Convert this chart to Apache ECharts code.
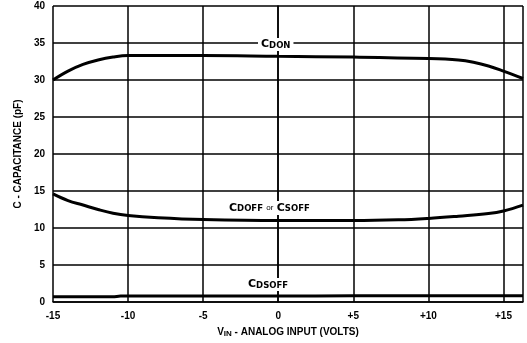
<!DOCTYPE html>
<html><head><meta charset="utf-8">
<script src="https://cdn.jsdelivr.net/npm/echarts@6/dist/echarts.min.js"></script>
<style>html,body{margin:0;padding:0;background:#fff}#c{width:527px;height:343px}</style>
</head><body><div id="c"></div>
<script>
const xTicks = [-15, -10, -5, 0, 5, 10, 15];
const yTicks = [0, 5, 10, 15, 20, 25, 30, 35, 40];
const xOn = [-15, -14, -13, -12, -11, -10, -5, 0, 5, 10, 12, 13, 14, 15, 16.3];
const cdOn = [30.0, 31.2, 32.1, 32.7, 33.1, 33.3, 33.3, 33.2, 33.1, 32.9, 32.7, 32.4, 31.9, 31.2, 30.2];
const xOff = [-15, -14, -13, -12, -11, -10, -8, -5, 0, 5, 8, 10, 12, 14, 15, 16.3];
const cdOff = [14.6, 13.7, 13.1, 12.5, 12.0, 11.7, 11.4, 11.15, 11.0, 11.0, 11.1, 11.3, 11.6, 11.95, 12.3, 13.1];
const xDs = [-15, -11, -10.5, 0, 5, 10, 16.3];
const cdsOff = [0.7, 0.7, 0.8, 0.8, 0.85, 0.85, 0.85];

const F = '"Liberation Sans", Arial, sans-serif';
const FD = '"DejaVu Sans", sans-serif';
const chart = echarts.init(document.getElementById('c'));
function pairs(xs, ys){ return xs.map((x,i)=>[x, ys[i]]); }
const sub = {
  c:{fontFamily:FD, fontSize:11, fontWeight:'bold', color:'#000'},
  s:{fontFamily:FD, fontSize:8.5, fontWeight:'bold', color:'#000', padding:[2,0,0,0]},
  o:{fontFamily:F, fontSize:8, color:'#000'}
};
chart.setOption({
  animation:false,
  backgroundColor:'#fff',
  grid:{left:53, right:4, top:6, bottom:39},
  xAxis:{type:'value', min:-15, max:16.3, interval:5,
    axisLine:{show:true, onZero:false, lineStyle:{color:'#000', width:1.5}},
    axisTick:{show:false},
    splitLine:{show:true, lineStyle:{color:'#000', width:1.5}},
    axisLabel:{showMaxLabel:false, margin:9, fontFamily:F, fontSize:10, fontWeight:'bold', color:'#000',
      formatter:v => xTicks.includes(v) ? (v>0?'+'+v:String(v)) : ''},
    name:'{c|V}{s|IN}{c| - ANALOG INPUT (VOLTS)}', nameLocation:'middle', nameGap:25,
    nameTextStyle:{rich:{c:{fontFamily:F, fontSize:10, fontWeight:'bold', color:'#000'}, s:{fontFamily:F, fontSize:8, fontWeight:'bold', color:'#000', padding:[3,0,0,0]}}}
  },
  yAxis:{type:'value', min:0, max:40, interval:5,
    axisLine:{show:true, lineStyle:{color:'#000', width:1.5}},
    axisTick:{show:false},
    splitLine:{show:true, lineStyle:{color:'#000', width:1.5}},
    axisLabel:{margin:8, fontFamily:F, fontSize:10, fontWeight:'bold', color:'#000',
      formatter:v => yTicks.includes(v) ? String(v) : ''},
    name:'C - CAPACITANCE (pF)', nameLocation:'middle', nameGap:29,
    nameTextStyle:{fontFamily:F, fontSize:10, fontWeight:'bold', color:'#000'}
  },
  series:[
    {type:'line', data:pairs(xOn, cdOn), smooth:0.4, showSymbol:false, lineStyle:{color:'#000', width:3}},
    {type:'line', data:pairs(xOff, cdOff), smooth:0.4, showSymbol:false, lineStyle:{color:'#000', width:3}},
    {type:'line', data:pairs(xDs, cdsOff), smooth:0.2, showSymbol:false, lineStyle:{color:'#000', width:3}}
  ],
  graphic:[
    {type:'text', left:258, top:38, z:10, style:{text:'{c|C}{s|DON}', rich:sub, backgroundColor:'#fff', padding:[1,3]}},
    {type:'text', left:226, top:201, z:10, style:{text:'{c|C}{s|DOFF} {o|or} {c|C}{s|SOFF}', rich:sub, backgroundColor:'#fff', padding:[1,3]}},
    {type:'text', left:245, top:278, z:10, style:{text:'{c|C}{s|DSOFF}', rich:sub, backgroundColor:'#fff', padding:[1,3]}}
  ]
});
</script></body></html>
